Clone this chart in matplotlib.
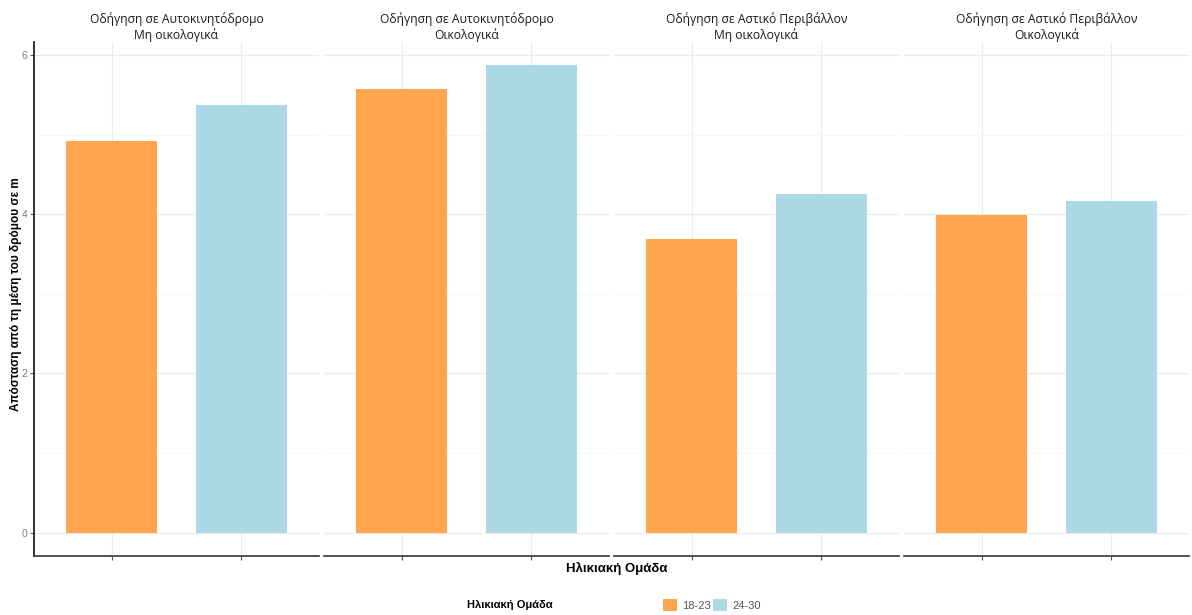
import matplotlib.pyplot as plt
from matplotlib.patches import Patch
import numpy as np

# Δεδομένα
panels = [
    "Οδήγηση σε Αυτοκινητόδρομο\nΜη οικολογικά",
    "Οδήγηση σε Αυτοκινητόδρομο\nΟικολογικά",
    "Οδήγηση σε Αστικό Περιβάλλον\nΜη οικολογικά",
    "Οδήγηση σε Αστικό Περιβάλλον\nΟικολογικά",
]
age_groups = ["18-23", "24-30"]
values_18_23 = [4.92, 5.57, 3.69, 3.99]
values_24_30 = [5.37, 5.87, 4.25, 4.16]
colors = ["#FFA54F", "#ADD8E6"]

SANS = ["Liberation Sans", "DejaVu Sans"]
TITLE_FONT = ["Open Sans", "DejaVu Sans"]

fig = plt.figure(figsize=(11.92, 6.15), dpi=100)
W, H = 1192, 615

top_val = max(values_18_23 + values_24_30)
ylim = (-0.05 * top_val, top_val * 1.05)

panel_left = [34, 324, 614, 904]
panel_w = 285
y_top, y_bot = 42, 556

for i, title in enumerate(panels):
    ax = fig.add_axes([panel_left[i] / W, (H - y_bot) / H, panel_w / W, (y_bot - y_top) / H])
    vals = [values_18_23[i], values_24_30[i]]
    xs = np.arange(1, len(age_groups) + 1)
    ax.bar(xs, vals, width=0.7, color=colors, zorder=2)
    ax.set_xlim(0.4, 2.6)
    ax.set_ylim(*ylim)
    ax.set_xticks(xs)
    ax.set_xticklabels([])
    ax.set_yticks([0, 2, 4, 6])
    ax.set_yticks([1, 3, 5], minor=True)
    ax.grid(which="major", color="#EBEBEB", lw=0.8, zorder=0)
    ax.grid(which="minor", axis="y", color="#F4F4F4", lw=0.5, zorder=0)
    for s in ["top", "right"]:
        ax.spines[s].set_visible(False)
    ax.spines["bottom"].set_color("#333333")
    ax.spines["bottom"].set_linewidth(1.2)
    ax.tick_params(axis="x", which="both", length=3, color="#555555")
    ax.tick_params(axis="y", which="minor", length=0)
    if i == 0:
        ax.spines["left"].set_color("#222222")
        ax.spines["left"].set_linewidth(1.3)
        ax.tick_params(axis="y", which="major", length=3, color="#555555",
                       labelsize=7.5, labelcolor="#7F7F7F", pad=2)
        for lab in ax.get_yticklabels():
            lab.set_family(SANS)
        ax.set_ylabel("Απόσταση από τη μέση του δρόμου σε m", fontsize=8.5,
                      fontweight="bold", family=SANS)
        ax.yaxis.set_label_coords(-0.042, 0.51)
    else:
        ax.spines["left"].set_visible(False)
        ax.tick_params(axis="y", which="major", length=0, labelleft=False)
    ax.set_title(title, fontsize=8.7, family=TITLE_FONT, color="#1A1A1A",
                 pad=2, linespacing=1.2)

fig.text(617 / W, 1 - 568 / H, "Ηλικιακή Ομάδα", ha="center", va="center",
         fontsize=9.5, fontweight="bold", family=SANS)

fig.text(510 / W, 1 - 605 / H, "Ηλικιακή Ομάδα", ha="center", va="center",
         fontsize=8, fontweight="bold", family=SANS)
handles = [Patch(facecolor=c, edgecolor="none") for c in colors]
leg = fig.legend(handles, age_groups, loc="center", bbox_to_anchor=(712 / W, 1 - 605 / H),
                 ncol=2, frameon=False, handlelength=1.2, handleheight=1.2,
                 handletextpad=0.5, columnspacing=0.2, prop={"family": SANS, "size": 8})
for t in leg.get_texts():
    t.set_color("#555555")

fig.savefig("out.png", dpi=100, facecolor="white")
